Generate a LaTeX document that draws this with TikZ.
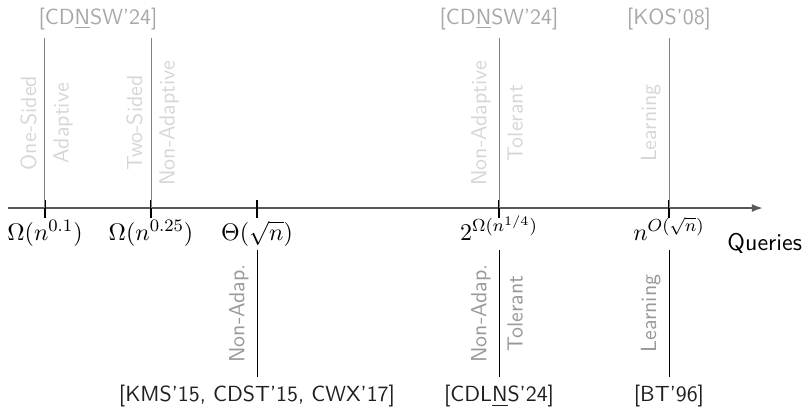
\documentclass[tikz,border=0pt,11pt]{standalone}
\usepackage{amsmath}
\usepackage{xcolor}
\usepackage{tikz}
\usetikzlibrary{arrows.meta,calc}
\definecolor{AxisInk}{gray}{0.35}
\definecolor{TopLine}{gray}{0.50}
\definecolor{TopRef}{gray}{0.66}
\definecolor{TopNote}{gray}{0.84}
\definecolor{BotNote}{gray}{0.60}
\definecolor{BotRef}{gray}{0.12}

\begin{document}
\begin{tikzpicture}[
  font=\sffamily,
  >={Latex[length=1.8mm,width=1.3mm]},
  tick/.style={black,line width=0.6pt},
  topline/.style={TopLine,line width=0.45pt},
  botline/.style={black,line width=0.4pt},
  value/.style={anchor=base,inner sep=0pt},
  topnote/.style={font=\sffamily\small,text=TopNote,rotate=90},
  botnote/.style={font=\sffamily\small,text=BotNote,rotate=90},
  topref/.style={font=\sffamily\small,text=TopRef,above},
  botref/.style={font=\sffamily\small,text=BotRef,below},
]
  \useasboundingbox (0,-3.194) rectangle (12.889,3.339);

  % axis
  \coordinate (axstart) at (0.128,0);
  \coordinate (axend) at (12.247,0);
  \draw[->,AxisInk,line width=0.9pt] (axstart) -- (axend);
  \node[anchor=base west,inner sep=0pt] (queries) at (11.67,-0.674) {Queries};

  % ticks, values and line ends
  \foreach \n/\x/\val in {a/0.722/{\Omega(n^{0.1})},b/2.424/{\Omega(n^{0.25})},
      c/4.125/{\Theta(\sqrt{n})},d/8.010/{2^{\Omega(n^{1/4})}},e/10.738/{n^{O(\sqrt{n})}}}{
    \coordinate (\n) at (\x,0);
    \coordinate (top\n) at (\x,2.729);
    \coordinate (low\n) at (\x,-0.674);
    \draw[tick] ([yshift=0.13cm]\n) -- ([yshift=-0.16cm]\n);
    \node[value] (val\n) at (\x,-0.514) {$\val$};
  }

  % upper bounds side
  \foreach \n in {a,b,d,e}
    \draw[topline] (\n) -- (top\n);
  \node[topref] (refab) at ($(topa)!0.5!(topb)$) {[CD\underline{N}SW'24]};
  \node[topref] (refd) at (topd) {[CD\underline{N}SW'24]};
  \node[topref] (refe) at (tope) {[KOS'08]};

  \node[topnote,anchor=south] (onesided) at ($(a)!0.5!(topa)$) {One-Sided};
  \node[topnote,anchor=north] (adaptive) at ($(a)!0.5!(topa)$) {Adaptive};
  \node[topnote,anchor=south] (twosided) at ($(b)!0.5!(topb)$) {Two-Sided};
  \node[topnote,anchor=north] (nonadaptive) at ($(b)!0.5!(topb)$) {Non-Adaptive};
  \node[topnote,anchor=south] (nonadaptived) at ($(d)!0.5!(topd)$) {Non-Adaptive};
  \node[topnote,anchor=north] (tolerantd) at ($(d)!0.5!(topd)$) {Tolerant};
  \node[topnote,anchor=south] (learninge) at ($(e)!0.5!(tope)$) {Learning};

  % lower bounds side
  \node[botref] (refc) at (4.125,-2.713) {[KMS'15, CDST'15, CWX'17]};
  \node[botref] (refdl) at (8.010,-2.713) {[CDL\underline{N}S'24]};
  \node[botref] (refel) at (10.738,-2.713) {[BT'96]};
  \draw[botline] (lowc) -- (refc.north);
  \draw[botline] (lowd) -- (refdl.north);
  \draw[botline] (lowe) -- (refel.north);

  \node[botnote,anchor=south] (nonadapc) at ($(lowc)!0.5!(refc.north)$) {Non-Adap.};
  \node[botnote,anchor=south] (nonadapd) at ($(lowd)!0.5!(refdl.north)$) {Non-Adap.};
  \node[botnote,anchor=north] (tolerantl) at ($(lowd)!0.5!(refdl.north)$) {Tolerant};
  \node[botnote,anchor=south] (learningl) at ($(lowe)!0.5!(refel.north)$) {Learning};
\end{tikzpicture}
\end{document}
